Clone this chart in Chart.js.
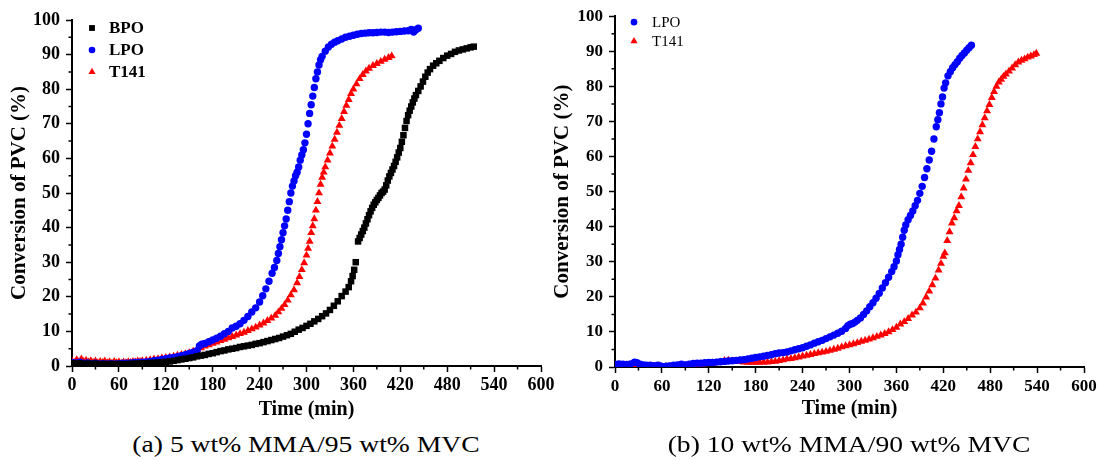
<!DOCTYPE html>
<html>
<head>
<meta charset="utf-8">
<script src="https://cdn.jsdelivr.net/npm/chart.js@4.4.1/dist/chart.umd.min.js"></script>
<style>
  body { margin: 0; background: #fff; width: 1106px; height: 460px; position: relative; overflow: hidden; }
  canvas { position: absolute; top: 0; }
  #chartA { left: 0; }
  #chartB { left: 543px; }
  .caption {
    position: absolute; top: 430px; line-height: 30px;
    font-family: "Liberation Serif", serif; font-size: 23px; white-space: nowrap;
    transform: translateX(-50%) scaleX(1.2);
  }
</style>
</head>
<body>
<canvas id="chartA" width="560" height="425"></canvas>
<canvas id="chartB" width="563" height="425"></canvas>
<div class="caption" style="left:306px">(a) 5 wt% MMA/95 wt% MVC</div>
<div class="caption" style="left:849px">(b) 10 wt% MMA/90 wt% MVC</div>
<script>
// axis ticks
const timeTicks = [0, 60, 120, 180, 240, 300, 360, 420, 480, 540, 600];
const convTicks = [0, 10, 20, 30, 40, 50, 60, 70, 80, 90, 100];

// (a) 5 wt% MMA / 95 wt% MVC  -- [time (min), conversion (%)]
const bpoA = [[0,0.8],[5,0.7],[10,0.8],[15,0.6],[20,0.7],[25,0.6],[30,0.7],[35,0.5],[40,0.6],[45,0.5],[50,0.6],[55,0.5],[60,0.6],[65,0.5],[70,0.6],[75,0.6],[80,0.7],[85,0.7],[90,0.8],[95,0.8],[100,0.9],[105,0.9],[110,1.0],[115,1.1],[120,1.2],[125,1.3],[130,1.5],[135,1.7],[140,1.9],[145,2.1],[150,2.3],[155,2.5],[160,2.8],[165,3.0],[170,3.2],[175,3.5],[180,3.7],[185,4.0],[190,4.3],[195,4.5],[200,4.8],[205,5.0],[210,5.2],[215,5.5],[220,5.7],[225,5.9],[230,6.1],[235,6.4],[240,6.6],[245,6.9],[250,7.2],[255,7.5],[260,7.8],[265,8.1],[270,8.5],[275,8.9],[280,9.3],[285,9.9],[290,10.5],[295,11.0],[300,11.6],[305,12.2],[310,12.9],[315,13.6],[320,14.4],[325,15.2],[330,16.2],[335,17.4],[340,18.7],[345,20.2],[350,21.5],[354,22.8],[357,24.5],[359,26],[361,27.8],[363,30],[366,36],[368,37],[370,38],[372,39],[374,40],[376,41.2],[378,42.4],[380,43.6],[382,44.7],[384,45.7],[386,46.6],[388,47.3],[390,48],[392,48.6],[394,49.3],[396,50],[398,50.4],[400,51],[402,52.2],[404,53.6],[406,54.8],[408,55.8],[410,56.8],[412,57.8],[414,59],[416,60.3],[418,61.7],[420,63],[422,64.8],[424,66.7],[426,68.8],[428,70.8],[430,72.5],[432,73.8],[434,75],[436,76.2],[438,77.3],[440,78.3],[443,79.5],[446,80.8],[449,82.2],[452,83.6],[455,84.8],[458,85.8],[462,86.8],[466,87.5],[470,88.2],[475,89],[480,89.7],[485,90.2],[490,90.8],[495,91.2],[500,91.5],[505,91.8],[510,92.1],[514,92.3]];
const lpoA = [[0,1.0],[5,0.9],[10,1.1],[15,0.8],[20,0.9],[25,0.7],[30,0.8],[35,0.6],[40,0.7],[45,0.6],[50,0.7],[55,0.6],[60,0.7],[65,0.8],[70,0.8],[75,0.9],[80,1.0],[85,1.0],[90,1.1],[95,1.2],[100,1.3],[105,1.5],[110,1.7],[115,1.9],[120,2.1],[125,2.3],[130,2.5],[135,2.7],[140,3.0],[145,3.3],[150,3.6],[155,4.0],[160,4.4],[163,5.8],[166,6.3],[170,6.5],[175,7.0],[180,7.5],[185,8.0],[190,8.6],[195,9.3],[200,10.0],[205,11.0],[210,11.5],[215,12.2],[220,13.2],[225,14.3],[230,15.6],[235,16.8],[240,18.5],[244,20.3],[248,22.3],[252,24.5],[256,26.8],[259,28.5],[262,30.5],[264,32.5],[266,34.5],[268,36.5],[270,38.5],[272,40.5],[274,42.5],[276,45],[278,47.5],[280,50],[282,52],[284,53.5],[286,55],[288,56],[290,57.5],[292,59.5],[294,61],[296,62.5],[298,64.5],[300,67],[302,70],[304,73],[306,75.5],[308,78],[310,80.5],[312,83],[314,85],[316,87],[318,88.5],[320,89.5],[324,91],[328,92.2],[332,93],[336,93.6],[340,94],[345,94.5],[350,95],[355,95.3],[360,95.6],[365,95.9],[370,96.1],[375,96.2],[380,96.3],[385,96.3],[390,96.4],[395,96.5],[400,96.5],[405,96.4],[410,96.5],[415,96.6],[420,96.7],[425,96.8],[430,96.9],[434,97.3],[437,96.5],[440,97.2],[443,97.6]];
const t141A = [[0,1.5],[3,1.0],[6,1.8],[9,1.2],[12,2.0],[15,1.3],[18,1.6],[21,1.1],[24,1.5],[27,1.0],[30,1.4],[33,0.9],[36,1.3],[39,1.0],[42,1.4],[45,0.9],[48,1.2],[51,0.8],[54,1.3],[57,0.9],[60,1.2],[63,0.8],[66,1.1],[69,0.9],[72,1.2],[75,1.0],[78,1.3],[81,1.1],[84,1.4],[87,1.3],[90,1.5],[95,1.6],[100,1.8],[105,2.0],[110,2.1],[115,2.3],[120,2.4],[125,2.6],[130,2.8],[135,3.1],[140,3.3],[145,3.5],[150,3.8],[155,4.2],[160,4.7],[165,5.2],[170,5.7],[175,6.1],[180,6.5],[185,6.9],[190,7.3],[195,7.7],[200,8.1],[205,8.5],[210,8.9],[215,9.3],[220,9.7],[225,10.2],[230,10.7],[235,11.2],[240,11.8],[245,12.4],[250,13.1],[255,13.8],[260,14.6],[264,15.6],[268,16.6],[272,17.7],[276,19.0],[280,20.5],[284,22.0],[288,24.0],[291,25.8],[294,27.8],[297,29.8],[300,32.0],[302,34.0],[304,36.0],[306,38.5],[308,40.5],[310,42.5],[312,45],[314,47.5],[316,50],[318,52.5],[320,54.5],[322,56],[324,57.5],[327,59.5],[330,61.5],[333,63.5],[336,65.5],[339,67.5],[342,69.5],[345,71.5],[348,73.5],[351,75.3],[354,77],[357,78.7],[360,80],[364,81.5],[368,83],[372,84.2],[376,85.2],[380,86],[385,86.8],[390,87.4],[395,88],[400,88.6],[405,89.1],[409,89.6]];

// (b) 10 wt% MMA / 90 wt% MVC
const lpoB = [[0,0.8],[5,0.9],[10,0.8],[15,0.7],[20,0.9],[25,1.4],[28,1.2],[32,0.8],[36,0.6],[40,0.5],[45,0.5],[50,0.4],[55,0.5],[58,0.3],[62,0.1],[66,0.2],[70,0.3],[75,0.5],[80,0.6],[85,0.8],[90,0.6],[95,0.8],[100,1.0],[105,1.1],[110,1.1],[115,1.2],[120,1.3],[125,1.3],[130,1.4],[135,1.5],[140,1.6],[145,1.7],[150,1.8],[155,1.9],[160,2.0],[165,2.1],[170,2.3],[175,2.5],[180,2.7],[185,2.9],[190,3.1],[195,3.3],[200,3.5],[205,3.8],[210,4.0],[215,4.1],[220,4.3],[225,4.6],[230,4.9],[235,5.2],[240,5.5],[245,5.9],[250,6.3],[255,6.8],[260,7.2],[265,7.6],[270,8.1],[275,8.6],[280,9.1],[285,9.6],[290,10.2],[295,11.0],[298,11.8],[301,12.2],[304,12.4],[307,12.8],[310,13.3],[314,14.0],[318,15.0],[322,16.0],[326,17.2],[330,18.3],[334,19.6],[338,21.0],[342,22.5],[346,24.0],[350,25.6],[354,27.2],[357,28.6],[360,30.2],[362,32],[364,33.5],[366,35],[368,37],[370,39],[372,40.5],[375,42],[378,43.2],[381,44.5],[384,46],[387,47.5],[390,49.5],[393,51.5],[396,54],[399,56.5],[402,59],[405,61.5],[408,65],[411,68.5],[413,70.5],[415,72.5],[417,75],[419,77],[421,79.5],[423,81],[426,83],[429,84.2],[432,85.3],[435,86.2],[438,87],[441,88],[444,88.8],[447,89.5],[450,90.3],[453,91],[456,91.7]];
const t141B = [[0,0.6],[5,0.5],[10,0.4],[15,0.4],[20,0.3],[25,0.3],[30,0.2],[35,0.2],[40,0.1],[45,0.2],[50,0.1],[55,0.1],[60,0.0],[65,0.1],[70,0.1],[75,0.2],[80,0.3],[85,0.3],[90,0.4],[95,0.5],[100,0.6],[105,0.7],[110,0.8],[115,0.9],[120,1.0],[125,1.1],[130,1.2],[135,1.4],[140,1.8],[145,1.9],[150,1.7],[155,1.6],[160,1.5],[165,1.4],[170,1.3],[175,1.3],[180,1.3],[185,1.3],[190,1.4],[195,1.4],[200,1.5],[205,1.6],[210,1.8],[215,2.0],[220,2.3],[225,2.4],[230,2.6],[235,2.8],[240,3.1],[245,3.3],[250,3.5],[255,3.8],[260,4.0],[265,4.2],[270,4.4],[275,4.7],[280,5.0],[285,5.3],[290,5.7],[295,6.0],[300,6.3],[305,6.6],[310,6.9],[315,7.3],[320,7.6],[325,7.9],[330,8.3],[335,8.7],[340,9.1],[345,9.5],[350,10.0],[355,10.6],[360,11.3],[365,12.2],[370,12.9],[375,13.8],[380,14.8],[385,15.6],[390,16.8],[394,18.2],[398,19.9],[402,21.6],[406,23.4],[410,25.3],[414,27.6],[417,29.5],[420,31.5],[422,32.5],[425,36.0],[428,38.5],[431,41],[434,42.5],[437,44.5],[440,46],[443,48.5],[446,51],[449,53.5],[452,56],[455,58.2],[458,60.5],[461,62.8],[464,65],[467,67],[470,69],[473,71],[476,73],[479,74.8],[482,76.8],[485,78.5],[488,80],[491,81.2],[494,82],[497,82.8],[500,83.5],[504,84.3],[508,85.2],[512,86.1],[516,86.9],[520,87.4],[524,87.8],[528,88.3],[532,88.6],[536,89],[539,89.4]];

const serif = '"Liberation Serif", "Times New Roman", serif';

function marker(ctx, style, x, y, r) {
  ctx.beginPath();
  if (style === 'rect') {
    const h = r * Math.SQRT1_2;
    ctx.rect(x - h, y - h, 2 * h, 2 * h);
  } else if (style === 'triangle') {
    ctx.moveTo(x, y - r);
    ctx.lineTo(x + r * 0.866, y + r * 0.5);
    ctx.lineTo(x - r * 0.866, y + r * 0.5);
    ctx.closePath();
  } else {
    ctx.arc(x, y, r, 0, Math.PI * 2);
  }
  ctx.fill();
}

// minor ticks + legend inside the plot
const axisExtras = {
  id: 'axisExtras',
  afterDraw(chart, args, opts) {
    const { ctx, chartArea: a, scales: { x, y } } = chart;
    ctx.save();
    ctx.strokeStyle = '#000';
    ctx.lineWidth = 1.5;
    ctx.beginPath();
    for (let i = 0; i < timeTicks.length - 1; i++) {
      const px = x.getPixelForValue((timeTicks[i] + timeTicks[i + 1]) / 2);
      ctx.moveTo(px, a.bottom);
      ctx.lineTo(px, a.bottom + 3.5);
    }
    for (let i = 0; i < convTicks.length - 1; i++) {
      const py = y.getPixelForValue((convTicks[i] + convTicks[i + 1]) / 2);
      ctx.moveTo(a.left, py);
      ctx.lineTo(a.left - 3.5, py);
    }
    ctx.stroke();

    ctx.font = opts.font;
    ctx.textBaseline = 'middle';
    chart.data.datasets.forEach((ds, i) => {
      const cx = a.left + opts.x;
      const cy = a.top + opts.y + i * opts.gap;
      ctx.fillStyle = ds.backgroundColor;
      marker(ctx, ds.pointStyle, cx, cy, ds.pointRadius * 0.9);
      ctx.fillStyle = '#000';
      ctx.fillText(ds.label, cx + opts.textDx, cy + 1);
    });
    ctx.restore();
  }
};

function makeChart(id, series, look) {
  return new Chart(document.getElementById(id), {
    type: 'scatter',
    data: {
      datasets: series.map(s => ({
        label: s.label,
        data: s.points.map(p => ({ x: p[0], y: p[1] })),
        pointStyle: s.style,
        pointRadius: s.radius,
        pointHoverRadius: s.radius,
        backgroundColor: s.color,
        borderColor: s.color,
        borderWidth: 0,
        showLine: false
      }))
    },
    options: {
      responsive: false,
      animation: false,
      events: [],
      layout: { padding: look.padding },
      plugins: {
        legend: { display: false },
        tooltip: { enabled: false },
        axisExtras: look.legend
      },
      scales: {
        x: {
          type: 'linear', min: 0, max: 600,
          afterBuildTicks: s => { s.ticks = timeTicks.map(v => ({ value: v })); },
          afterFit: s => { s.height = look.xHeight; },
          grid: { drawOnChartArea: false, tickLength: 6, tickWidth: 1.5, tickColor: '#000' },
          border: { display: true, color: '#000', width: 2 },
          ticks: { color: '#000', padding: 3, maxRotation: 0, autoSkip: false,
                   font: { family: serif, weight: 'bold', size: look.tickSize } },
          title: { display: true, text: 'Time (min)', color: '#000',
                   font: { family: serif, weight: 'bold', size: 20 },
                   padding: { top: 0, bottom: look.xTitlePad } }
        },
        y: {
          type: 'linear', min: 0, max: 100,
          afterBuildTicks: s => { s.ticks = convTicks.map(v => ({ value: v })); },
          afterFit: s => { s.width = 72; },
          grid: { drawOnChartArea: false, tickLength: 6, tickWidth: 1.5, tickColor: '#000' },
          border: { display: true, color: '#000', width: 2 },
          ticks: { color: '#000', padding: 6,
                   font: { family: serif, weight: 'bold', size: look.tickSize } },
          title: { display: true, text: 'Conversion of PVC (%)', color: '#000',
                   font: { family: serif, weight: 'bold', size: 21 },
                   padding: { top: 7, bottom: 0 } }
        }
      }
    },
    plugins: [axisExtras]
  });
}

makeChart('chartA', [
  { label: 'BPO', points: bpoA, color: '#000000', style: 'rect', radius: 4.6 },
  { label: 'LPO', points: lpoA, color: '#0000ff', style: 'circle', radius: 3.7 },
  { label: 'T141', points: t141A, color: '#ff0000', style: 'triangle', radius: 4.6 }
], {
  padding: { top: 20, right: 19, bottom: 0, left: 0 },
  xHeight: 59, tickSize: 18, xTitlePad: 3,
  legend: { x: 20, y: 8, gap: 22, textDx: 17, font: 'bold 17px ' + serif }
});

makeChart('chartB', [
  { label: 'LPO', points: lpoB, color: '#0000ff', style: 'circle', radius: 3.7 },
  { label: 'T141', points: t141B, color: '#ff0000', style: 'triangle', radius: 4.6 }
], {
  padding: { top: 16, right: 22, bottom: 0, left: 0 },
  xHeight: 58, tickSize: 17, xTitlePad: 4,
  legend: { x: 19, y: 6, gap: 19, textDx: 18, font: '15px ' + serif }
});
</script>
</body>
</html>
